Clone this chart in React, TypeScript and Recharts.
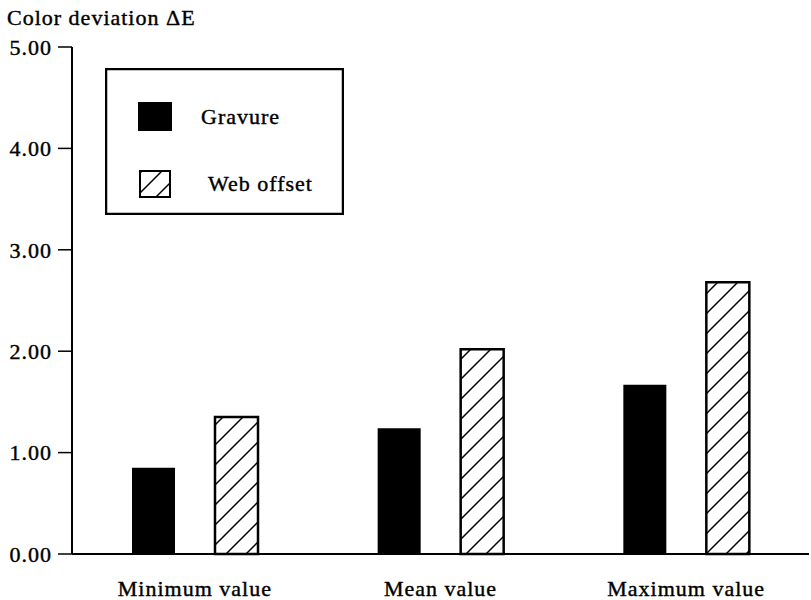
import React from 'react';
import { BarChart, Bar, XAxis, YAxis, Legend } from 'recharts';

const categories = ['Minimum value', 'Mean value', 'Maximum value'];
const gravure = [0.85, 1.24, 1.67];
const webOffset = [1.35, 2.02, 2.68];
const yTicks = [0, 1, 2, 3, 4, 5];
const seriesNames = ['Gravure', 'Web offset'];
const title = 'Color deviation \u0394E';

const data = categories.map((c, i) => ({ category: c, gravure: gravure[i], webOffset: webOffset[i] }));

const FONT = '"Liberation Serif", "Times New Roman", serif';
const tickStyle = { fontSize: 22, fill: '#000', fontFamily: FONT, letterSpacing: 1, stroke: '#000', strokeWidth: 0.4 };

const LegendBox = () => (
  <svg width={239} height={147} style={{ display: 'block' }}>
    <defs>
      <pattern id="hatchLegend" patternUnits="userSpaceOnUse" width="20" height="20">
        <rect width="20" height="20" fill="#fff" />
        <path d="M-5,5 L5,-5 M0,20 L20,0 M15,25 L25,15" stroke="#000" strokeWidth="1.5" />
      </pattern>
    </defs>
    <rect x={1} y={1} width={237} height={145} fill="#fff" stroke="#000" strokeWidth={2.5} />
    <rect x={33} y={34} width={34} height={29} fill="#000" />
    <text x={96} y={56} fontSize={22} fontFamily={FONT} letterSpacing={1} fill="#000" stroke="#000" strokeWidth={0.4}>{seriesNames[0]}</text>
    <rect x={35} y={103} width={30} height={26} fill="url(#hatchLegend)" stroke="#000" strokeWidth={2} />
    <text x={103} y={123} fontSize={22} fontFamily={FONT} letterSpacing={1} fill="#000" stroke="#000" strokeWidth={0.4}>{seriesNames[1]}</text>
  </svg>
);

export default function App() {
  return (
    <div style={{ position: 'absolute', left: 0, top: 0, width: 811, height: 600, background: '#fff', fontFamily: FONT }}>
      <div style={{ position: 'absolute', left: 7, top: 7, fontSize: 22, lineHeight: '22px', letterSpacing: 1, whiteSpace: 'nowrap', color: '#000', zIndex: 2, WebkitTextStroke: '0.4px #000' }}>
        {title}
      </div>
      <BarChart width={811} height={600} data={data} margin={{ top: 47, right: 2, bottom: 0, left: 0 }} barSize={43} barGap={40}>
        <defs>
          <pattern id="hatch" patternUnits="userSpaceOnUse" width="20" height="20">
            <rect width="20" height="20" fill="#fff" />
            <path d="M-5,5 L5,-5 M0,20 L20,0 M15,25 L25,15" stroke="#000" strokeWidth="1.5" />
          </pattern>
        </defs>
        <XAxis
          dataKey="category"
          height={46}
          tickLine={false}
          tickSize={10}
          tickMargin={16}
          axisLine={{ stroke: '#000', strokeWidth: 2 }}
          tick={tickStyle}
        />
        <XAxis
          xAxisId="top"
          dataKey="category"
          orientation="top"
          height={0}
          tick={false}
          tickLine={false}
          axisLine={{ stroke: '#000', strokeWidth: 2 }}
        />
        <YAxis
          domain={[0, 5]}
          ticks={yTicks}
          interval={0}
          width={72}
          tickSize={14}
          tickMargin={6}
          tickFormatter={(v: number) => v.toFixed(2)}
          tickLine={{ stroke: '#000', strokeWidth: 1.5 }}
          axisLine={{ stroke: '#000', strokeWidth: 2 }}
          tick={tickStyle}
        />
        <YAxis
          yAxisId="right"
          orientation="right"
          domain={[0, 5]}
          width={0}
          tick={false}
          tickLine={false}
          axisLine={{ stroke: '#000', strokeWidth: 2 }}
        />
        <Legend
          layout="vertical"
          align="center"
          verticalAlign="middle"
          wrapperStyle={{ left: 105, top: 68, width: 239, height: 147 }}
          content={() => <LegendBox />}
        />
        <Bar dataKey="gravure" name={seriesNames[0]} fill="#000" isAnimationActive={false} />
        <Bar dataKey="webOffset" name={seriesNames[1]} fill="url(#hatch)" stroke="#000" strokeWidth={2.5} isAnimationActive={false} />
      </BarChart>
    </div>
  );
}
